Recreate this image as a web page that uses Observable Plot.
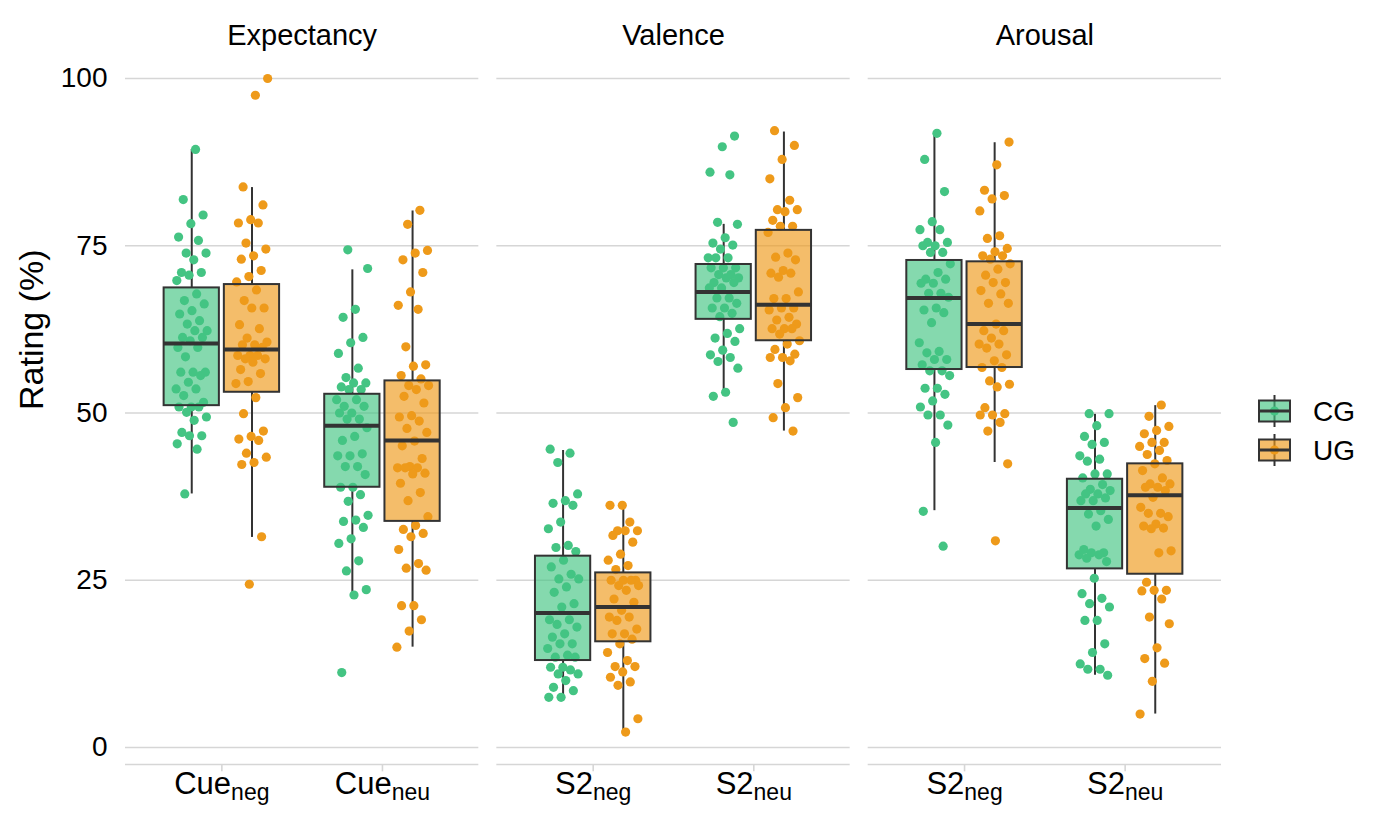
<!DOCTYPE html>
<html><head><meta charset="utf-8">
<script src="https://cdn.jsdelivr.net/npm/d3@7"></script>
<script src="https://cdn.jsdelivr.net/npm/@observablehq/plot@0.6"></script>
<style>
body{margin:0;background:#fff;font-family:"Liberation Sans",Arial,Helvetica,sans-serif;}
#wrap{position:relative;width:1376px;height:816px;overflow:hidden;}
#legend{position:absolute;left:1256px;top:391px;}
</style></head><body>
<div id="wrap"><div id="chart"></div><div id="legend"></div></div>
<script>
// ---------- categories ----------
const measures = ["Expectancy", "Valence", "Arousal"];
const conditions = ["neg", "neu"];
const prefixes = ["Cue", "S2", "S2"];
const groups = ["CG", "UG"];
const groupColors = ["#44C483", "#EE9A1A"];
const yTicks = [0, 25, 50, 75, 100];
const yTitle = "Rating (%)";

// ---------- individual ratings ----------
const expNegCG = [89.4,81.9,79.6,78.3,76.3,75.8,73.9,73.9,72.9,71.0,71.0,70.6,69.8,67.8,66.8,66.3,65.3,64.8,63.8,63.3,62.3,62.3,61.3,61.3,60.8,59.8,59.8,58.4,56.1,56.1,56.1,55.6,54.6,53.6,53.6,52.6,51.6,50.9,50.9,50.9,50.1,49.4,48.9,47.1,46.6,46.6,45.4,44.6,37.9];
const expNegUG = [100,97.5,83.8,81.1,78.9,78.4,78.4,75.4,74.5,73.5,73.0,71.3,70.4,69.6,68.4,66.8,65.7,65.7,63.2,62.6,61.2,60.6,60.2,60.2,59.8,58.6,58.6,58.6,58.1,58.1,57.6,56.5,55.9,54.7,54.4,52.3,49.9,47.3,46.5,46.1,45.9,44.0,43.4,42.6,42.3,31.5,24.4];
const expNeuCG = [74.4,71.6,65.5,64.3,61.3,60.5,58.9,56.7,55.3,54.5,54.5,53.9,53.5,53.5,52.0,52.0,51.0,51.0,50.0,50.0,49.1,49.1,47.8,46.5,45.9,43.9,43.6,43.6,42.0,42.0,40.8,38.9,38.9,37.8,36.8,34.7,34.0,33.8,32.9,31.2,30.5,27.9,26.4,23.6,22.8,11.2];
const expNeuUG = [80.3,78.2,74.3,73.9,72.9,71.0,68.1,66.1,65.5,59.9,57.2,57.0,55.6,55.1,54.1,54.1,53.5,52.5,51.5,49.6,49.4,48.8,47.7,47.1,45.8,45.1,43.2,42.0,41.8,41.8,41.8,41.0,40.9,39.5,38.1,36.9,34.5,33.2,32.6,32.0,31.5,29.6,27.5,26.8,26.5,21.2,21.2,19.1,17.4,15.0];
const valNegCG = [44.6,44.0,42.6,37.9,36.9,36.5,36.2,33.7,32.7,30.2,29.9,29.3,28.0,27.0,25.9,25.2,25.2,24.0,23.2,21.5,21.0,19.1,19.1,18.4,18.0,17.0,16.5,15.5,15.5,14.8,13.8,13.5,13.5,12.0,12.0,11.6,11.0,11.0,10.0,9.0,8.5,7.5,7.5];
const valNegUG = [36.2,36.2,33.7,32.4,32.4,32.4,31.7,30.7,28.9,28.0,27.2,26.6,25.0,25.0,25.0,25.0,24.2,24.2,23.5,22.2,21.7,20.5,19.5,19.5,19.0,17.7,17.0,17.0,16.2,15.5,14.2,13.0,12.1,12.1,11.3,10.5,9.8,9.3,4.3,2.3];
const valNeuCG = [91.4,89.8,86.0,85.6,78.5,78.2,76.2,75.4,75.1,74.5,73.2,73.2,73.2,71.7,71.7,71.7,70.7,70.7,70.2,70.2,69.5,69.5,68.7,68.7,67.2,67.2,66.4,65.7,65.7,64.9,64.4,62.6,61.9,61.2,60.7,59.4,58.7,58.3,57.7,56.7,53.1,52.5,48.6];
const valNeuUG = [92.2,90.0,87.9,85.0,81.8,80.4,80.4,80.1,78.8,77.9,77.9,77.0,73.9,73.3,72.9,71.3,70.9,70.9,70.3,68.1,67.1,67.1,65.7,65.7,65.4,64.3,63.9,63.3,62.6,62.6,62.6,61.8,60.8,60.3,59.5,58.8,58.3,58.3,57.8,54.4,52.3,50.8,49.3,47.3];
const aroNegCG = [91.8,87.9,83.1,78.6,77.4,77.4,75.5,75.5,75.0,75.0,74.0,74.0,72.3,71.0,70.0,70.0,69.4,69.4,67.9,67.9,67.3,65.7,65.4,65.0,63.5,60.5,59.2,59.0,58.0,58.0,57.2,56.3,56.3,55.6,53.7,53.7,52.8,51.8,50.9,49.7,49.7,48.2,45.6,35.3,30.1];
const aroNegUG = [90.5,87.1,83.3,82.5,82.0,80.2,76.5,76.1,74.6,74.1,73.5,73.5,73.0,72.3,71.5,70.6,69.5,69.5,68.3,67.8,66.4,66.4,63.3,62.3,62.3,61.2,60.3,60.3,59.7,58.7,57.8,56.8,56.8,54.8,54.3,53.9,50.8,49.9,49.7,49.7,48.6,47.3,42.4,30.9];
const aroNeuCG = [49.9,49.9,48.1,46.5,45.6,45.3,43.6,43.1,42.8,40.9,40.9,40.3,39.3,38.6,38.4,37.9,37.9,37.3,36.9,36.9,35.4,34.9,34.1,33.1,29.6,29.1,29.1,28.8,28.8,28.3,27.8,25.3,23.0,22.3,21.5,21.0,19.0,19.0,15.5,14.2,12.5,11.7,11.7,10.8];
const aroNeuUG = [51.2,49.5,48.0,47.4,46.9,45.6,45.6,45.0,44.4,43.8,42.9,42.4,41.4,40.3,39.4,39.4,38.9,38.9,38.4,37.4,35.9,35.0,35.0,34.5,33.4,33.1,32.8,32.7,29.4,29.1,24.7,23.5,23.5,23.4,22.2,19.5,18.5,14.9,13.3,12.6,9.9,5.0];

// ---------- box statistics, same order as series below ----------
const boxQ3     = [68.7, 69.2, 52.8, 54.8, 28.6, 26.1, 72.2, 77.3, 72.8, 72.6, 40.1, 42.4];
const boxMedian = [60.4, 59.5, 48.1, 45.9, 20.1, 21.0, 68.1, 66.2, 67.2, 63.3, 35.8, 37.7];
const boxQ1     = [51.1, 53.1, 38.9, 33.8, 13.0, 15.8, 64.0, 60.8, 56.5, 56.8, 26.7, 25.9];
const whiskerHi = [89.4, 83.7, 71.4, 80.2, 44.4, 35.9, 78.2, 92.0, 91.7, 90.4, 49.8, 51.1];
const whiskerLo = [37.9, 31.4, 22.8, 15.0, 7.4, 2.3, 52.5, 47.3, 35.4, 42.6, 10.8, 5.0];

const series = [
  {measure: "Expectancy", cond: "neg", group: "CG", values: expNegCG},
  {measure: "Expectancy", cond: "neg", group: "UG", values: expNegUG},
  {measure: "Expectancy", cond: "neu", group: "CG", values: expNeuCG},
  {measure: "Expectancy", cond: "neu", group: "UG", values: expNeuUG},
  {measure: "Valence", cond: "neg", group: "CG", values: valNegCG},
  {measure: "Valence", cond: "neg", group: "UG", values: valNegUG},
  {measure: "Valence", cond: "neu", group: "CG", values: valNeuCG},
  {measure: "Valence", cond: "neu", group: "UG", values: valNeuUG},
  {measure: "Arousal", cond: "neg", group: "CG", values: aroNegCG},
  {measure: "Arousal", cond: "neg", group: "UG", values: aroNegUG},
  {measure: "Arousal", cond: "neu", group: "CG", values: aroNeuCG},
  {measure: "Arousal", cond: "neu", group: "UG", values: aroNeuUG}
];

// ---------- layout helpers ----------
const condPos = {neg: 1, neu: 2};
const groupOffset = {CG: -0.1875, UG: 0.1875};
const halfBox = 0.172;
const jitterHalf = 0.1;
const yMin = -2.54, yMax = 103.44;
const dark = "#333333";
const gridColor = "#d6d6d6";
const FONT = '"Liberation Sans", Arial, Helvetica, sans-serif';

const points = series.flatMap((s, si) => s.values.map((v, i) => ({
  measure: s.measure, group: s.group, value: v,
  x: condPos[s.cond] + groupOffset[s.group] + ((((i + 1) * 0.6180339887 + si * 0.37) % 1) - 0.5) * 2 * jitterHalf
})));

const boxes = series.map((s, i) => ({
  measure: s.measure, group: s.group,
  xc: condPos[s.cond] + groupOffset[s.group],
  q1: boxQ1[i], med: boxMedian[i], q3: boxQ3[i], lo: whiskerLo[i], hi: whiskerHi[i]
}));

const xLabels = measures.flatMap((m, mi) => conditions.map(c => ({measure: m, x: condPos[c], label: prefixes[mi] + "_" + c})));
const tickRows = measures.flatMap(m => conditions.map(c => ({measure: m, x: condPos[c]})));

const chart = Plot.plot({
  width: 1376, height: 816,
  marginLeft: 125, marginRight: 155, marginTop: 55, marginBottom: 52,
  style: {fontFamily: FONT, background: "white", overflow: "visible"},
  fx: {domain: measures, paddingInner: 18 / 371, paddingOuter: 0, round: false, axis: null, label: null},
  x: {domain: [0.4, 2.6], axis: null},
  y: {domain: [yMin, yMax], axis: null},
  color: {domain: groups, range: groupColors},
  marks: [
    Plot.ruleY(yTicks, {stroke: gridColor, strokeWidth: 1.6}),
    Plot.ruleY([yMin], {stroke: gridColor, strokeWidth: 1.6}),
    Plot.ruleX(tickRows, {fx: "measure", x: "x", y1: yMin, y2: yMin - 1.1, stroke: gridColor, strokeWidth: 1.6}),
    Plot.ruleX(boxes, {fx: "measure", x: "xc", y1: "q3", y2: "hi", stroke: dark, strokeWidth: 2}),
    Plot.ruleX(boxes, {fx: "measure", x: "xc", y1: "lo", y2: "q1", stroke: dark, strokeWidth: 2}),
    Plot.dot(points, {fx: "measure", x: "x", y: "value", r: 4.6, fill: "group", stroke: null}),
    Plot.rect(boxes, {fx: "measure", x1: d => d.xc - halfBox, x2: d => d.xc + halfBox, y1: "q1", y2: "q3",
      fill: "group", fillOpacity: 0.65, stroke: dark, strokeWidth: 2}),
    Plot.ruleY(boxes, {fx: "measure", y: "med", x1: d => d.xc - halfBox, x2: d => d.xc + halfBox, stroke: dark, strokeWidth: 4}),
    Plot.text(measures, {fx: d => d, text: d => d, frameAnchor: "top", dy: -31, fontSize: 29, fill: "black"}),
    Plot.text(yTicks, {fx: () => "Expectancy", y: d => d, text: d => String(d), frameAnchor: "left", dx: -18, textAnchor: "end", fontSize: 28, fill: "black"}),
    Plot.text([yTitle], {fx: () => "Expectancy", text: d => d, frameAnchor: "left", dx: -93, rotate: -90, fontSize: 34, fill: "black"}),
    Plot.text(xLabels, {fx: "measure", x: "x", text: "label", frameAnchor: "bottom", dy: 29, fontSize: 31, fill: "black"})
  ]
});

// subscripts for the category labels
chart.querySelectorAll("text").forEach(t => {
  const s = t.textContent;
  if (s.includes("_") && t.children.length === 0) {
    const [base, sub] = s.split("_");
    t.textContent = "";
    const a = document.createElementNS("http://www.w3.org/2000/svg", "tspan");
    a.textContent = base;
    const b = document.createElementNS("http://www.w3.org/2000/svg", "tspan");
    b.textContent = sub;
    b.setAttribute("font-size", "23");
    b.setAttribute("dy", "6");
    t.appendChild(a); t.appendChild(b);
  }
});
document.getElementById("chart").appendChild(chart);

// legend
const lg = d3.select("#legend").append("svg").attr("width", 118).attr("height", 82)
  .style("font-family", FONT);
groups.forEach((g, i) => {
  const yc = 20 + i * 39;
  const k = lg.append("g");
  k.append("line").attr("x1", 18.5).attr("x2", 18.5).attr("y1", yc - 16).attr("y2", yc + 16).attr("stroke", dark).attr("stroke-width", 2);
  k.append("rect").attr("x", 3).attr("y", yc - 10.5).attr("width", 31).attr("height", 21)
    .attr("fill", groupColors[i]).attr("fill-opacity", 0.65).attr("stroke", dark).attr("stroke-width", 2);
  k.append("circle").attr("cx", 18.5).attr("cy", yc).attr("r", 4.6).attr("fill", groupColors[i]);
  k.append("line").attr("x1", 3).attr("x2", 34).attr("y1", yc).attr("y2", yc).attr("stroke", dark).attr("stroke-width", 3);
  lg.append("text").attr("x", 57).attr("y", yc + 10).attr("font-size", 28).attr("fill", "black").text(g);
});
</script></body></html>
